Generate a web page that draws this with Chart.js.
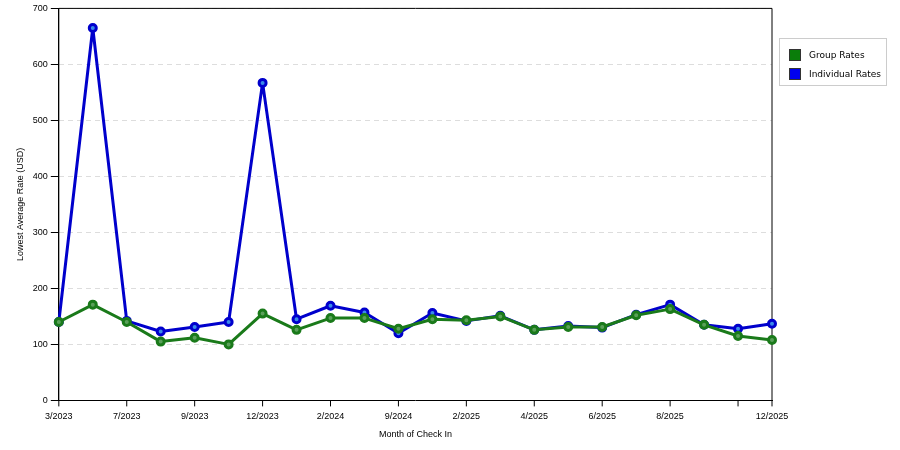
<!DOCTYPE html>
<html><head><meta charset="utf-8">
<script src="https://cdn.jsdelivr.net/npm/chart.js@4"></script>
<style>
body{margin:0;background:#fff;font-family:"DejaVu Sans",sans-serif}
#wrap{position:relative;width:900px;height:450px}
#legend{position:absolute;left:779px;top:38px;width:108px;height:48px;border:1px solid #ccc;font-size:9px;box-sizing:border-box;padding:6px 0 0 9px}
.it{display:flex;align-items:center;height:19px}
.sw{width:12px;height:12px;margin-right:8px;border:1px solid #333;box-sizing:border-box}
</style></head><body>
<div id="wrap"><canvas id="c" width="900" height="450"></canvas>
<div id="legend"><div class="it"><span class="sw" style="background:#0a7d0a"></span>Group Rates</div><div class="it"><span class="sw" style="background:#0000ee"></span>Individual Rates</div></div></div>
<script>
const months=["3/2023","5/2023","7/2023","8/2023","9/2023","10/2023","12/2023","1/2024","2/2024","3/2024","9/2024","10/2024","2/2025","3/2025","4/2025","5/2025","6/2025","7/2025","8/2025","10/2025","11/2025","12/2025"];
const individual=[140,665,142,123,131,140,567,145,169,157,120,156,142,151,126,133,130,153,171,135,128,137];
const group=[140,171,140,105,112,100,155,126,147,147,128,145,143,150,126,131,131,152,163,135,115,108];
const shown=i=>i%2===0||i===months.length-1;
new Chart(document.getElementById('c'),{type:'line',
data:{labels:months,datasets:[
{label:'Group Rates',data:group,borderColor:'#1a7a1a',backgroundColor:'#5aa05a',pointBorderColor:'#1a7a1a',borderWidth:3,borderJoinStyle:'round',pointRadius:3.5,tension:0},
{label:'Individual Rates',data:individual,borderColor:'#0000cc',backgroundColor:'#3a8ae8',pointBorderColor:'#0000cc',borderWidth:3,borderJoinStyle:'round',pointRadius:3.5,tension:0}]},
options:{responsive:false,animation:false,layout:{padding:{right:128,top:0,left:11,bottom:6}},
plugins:{legend:{display:false},tooltip:{enabled:false}},
scales:{x:{offset:false,grid:{display:false,drawTicks:true},border:{color:'#000'},
ticks:{color:'#000',font:{size:9},maxRotation:0,autoSkip:false,callback:(v,i)=>shown(i)?(i===20?'':months[i]):''},
title:{display:true,text:'Month of Check In',color:'#000',font:{size:9}}},
y:{min:0,max:700,grid:{color:'#ddd',tickColor:'#000'},border:{color:'#000',dash:[5,4]},
ticks:{stepSize:100,color:'#000',font:{size:9}},
title:{display:true,text:'Lowest Average Rate (USD)',color:'#000',font:{size:9}}}}},
plugins:[{id:'dash',beforeDatasetsDraw(ch){const a=ch.chartArea,y=ch.scales.y,x=ch.scales.x,c=ch.ctx;c.save();c.strokeStyle='#000';c.lineWidth=1;c.beginPath();c.moveTo(a.right,a.top);c.lineTo(a.right,a.bottom);c.moveTo(a.left,a.top);c.lineTo(a.right,a.top);c.moveTo(a.left,a.top);c.lineTo(a.left,a.bottom);
months.forEach((m,i)=>{if(shown(i)){const px=x.getPixelForValue(i);c.moveTo(px,a.bottom);c.lineTo(px,a.bottom+6);}});c.stroke();c.restore();}}]
});
</script></body></html>
